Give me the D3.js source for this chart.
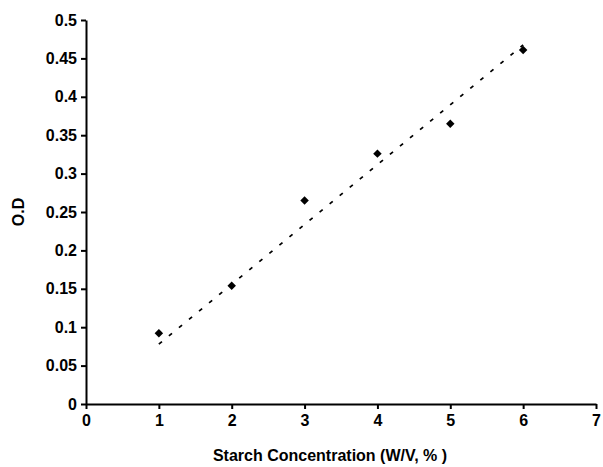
<!DOCTYPE html>
<html><head><meta charset="utf-8">
<script src="https://cdn.jsdelivr.net/npm/d3@7/dist/d3.min.js"></script>
<style>body{margin:0;background:#fff}svg{display:block}text{font-family:"Liberation Sans",Arial,sans-serif;font-weight:bold}</style>
</head><body>
<svg id="c" width="603" height="467"></svg>
<script>
const concentration = [1, 2, 3, 4, 5, 6];
const od = [0.092, 0.154, 0.265, 0.326, 0.365, 0.461];
const xTicks = [0, 1, 2, 3, 4, 5, 6, 7];
const yTicks = [0, 0.05, 0.1, 0.15, 0.2, 0.25, 0.3, 0.35, 0.4, 0.45, 0.5];

const svg = d3.select("#c");
const x = d3.scaleLinear().domain([0, 7]).range([86, 596]);
const y = d3.scaleLinear().domain([0, 0.5]).range([404, 20]);

// linear trendline through origin (least squares)
const sxy = d3.sum(concentration, (c, i) => c * od[i]);
const sxx = d3.sum(concentration, c => c * c);
const slope = sxy / sxx;
const trendX = [d3.min(concentration), d3.max(concentration)];

svg.append("line")
  .attr("x1", x(trendX[0])).attr("y1", y(slope * trendX[0]))
  .attr("x2", x(trendX[1])).attr("y2", y(slope * trendX[1]))
  .attr("stroke", "#000").attr("stroke-width", 1.8)
  .attr("stroke-dasharray", "4,9");

const yAxis = svg.append("g").attr("transform", "translate(86,0)")
  .call(d3.axisLeft(y).tickValues(yTicks).tickSize(5).tickSizeOuter(0).tickPadding(4).tickFormat(d3.format("~g")));
const xAxis = svg.append("g").attr("transform", "translate(0,404)")
  .call(d3.axisBottom(x).tickValues(xTicks).tickSize(5).tickSizeOuter(0).tickPadding(6).tickFormat(d3.format("d")));
[yAxis, xAxis].forEach(g => {
  g.select(".domain").attr("stroke", "#000").attr("stroke-width", 2);
  g.selectAll(".tick line").attr("stroke", "#000").attr("stroke-width", 2);
  g.selectAll(".tick text").attr("fill", "#000").style("font-size", "16px")
   .style("font-family", '"Liberation Sans", Arial, sans-serif').style("font-weight", "bold");
});

svg.selectAll("path.pt").data(concentration).enter().append("path")
  .attr("class", "pt")
  .attr("d", d3.symbol().type(d3.symbolSquare).size(36))
  .attr("transform", (d, i) => `translate(${x(d)},${y(od[i])}) rotate(45)`)
  .attr("fill", "#000");

svg.append("text").attr("x", 330).attr("y", 461).attr("text-anchor", "middle")
  .style("font-size", "16px").text("Starch Concentration (W/V, % )");
svg.append("text").attr("transform", "translate(24,212) rotate(-90)").attr("text-anchor", "middle")
  .style("font-size", "16px").text("O.D");
</script>
</body></html>
